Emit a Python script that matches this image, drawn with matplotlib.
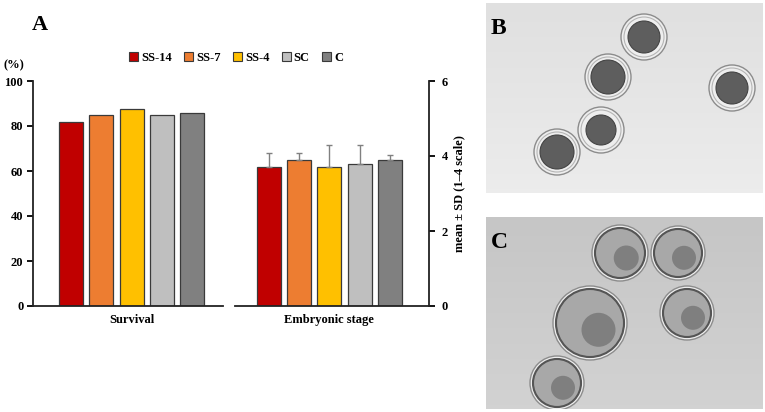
import matplotlib
matplotlib.use("Agg")
import matplotlib.pyplot as plt
import numpy as np
from matplotlib.patches import Patch, Circle

# ---------------- data ----------------
groups = ['SS-14', 'SS-7', 'SS-4', 'SC', 'C']
colors = ['#C00000', '#ED7D31', '#FFC000', '#BFBFBF', '#808080']
survival = [82, 85, 87.5, 85, 86]
stage_mean = [3.71, 3.89, 3.71, 3.80, 3.89]
stage_sd = [0.38, 0.20, 0.58, 0.49, 0.13]
left_ticks = [0, 20, 40, 60, 80, 100]
right_ticks = [0, 2, 4, 6]

plt.rcParams['font.family'] = ['Liberation Serif', 'DejaVu Serif']
plt.rcParams['font.weight'] = 'bold'

W, H = 765, 412
fig = plt.figure(figsize=(W / 100, H / 100), dpi=100)

def fbox(x0, y0, x1, y1):
    return [x0 / W, 1 - y1 / H, (x1 - x0) / W, (y1 - y0) / H]

edge = '#3a3a3a'
x = np.arange(len(groups))

# ---- left axes (Survival) ----
ax1 = fig.add_axes(fbox(33, 81, 223, 306))
ax1.bar(x, survival, width=0.79, color=colors, edgecolor=edge, linewidth=0.9)
ax1.set_ylim(0, 100)
ax1.set_xlim(-1.26, 5.02)
ax1.set_yticks(left_ticks)
ax1.set_xticks([2])
ax1.set_xticklabels(['Survival'])
for s in ['top', 'right']:
    ax1.spines[s].set_visible(False)
for s in ['left', 'bottom']:
    ax1.spines[s].set_linewidth(1.3)
    ax1.spines[s].set_color('#222222')
ax1.tick_params(axis='y', direction='out', length=4, width=1.3, labelsize=9, pad=3)
ax1.tick_params(axis='x', length=0, labelsize=9, pad=6)

# ---- right axes (Embryonic stage) ----
ax2 = fig.add_axes(fbox(235, 81, 429, 306))
ax2.bar(x, stage_mean, width=0.79, color=colors, edgecolor=edge, linewidth=0.9,
        yerr=[np.zeros(len(groups)), stage_sd], ecolor='#808080',
        error_kw=dict(capsize=2.5, elinewidth=1, capthick=1))
ax2.set_ylim(0, 6)
ax2.set_xlim(-1.12, 5.29)
ax2.set_yticks(right_ticks)
ax2.yaxis.tick_right()
ax2.yaxis.set_label_position('right')
ax2.set_xticks([2])
ax2.set_xticklabels(['Embryonic stage'])
for s in ['top', 'left']:
    ax2.spines[s].set_visible(False)
for s in ['right', 'bottom']:
    ax2.spines[s].set_linewidth(1.3)
    ax2.spines[s].set_color('#222222')
ax2.tick_params(axis='y', direction='out', length=4, width=1.3, labelsize=9, pad=5)
ax2.tick_params(axis='x', length=0, labelsize=9, pad=6)
ax2.set_ylabel('mean ± SD (1–4 scale)', fontsize=9, fontweight='bold', labelpad=4)

# ---- legend ----
handles = [Patch(facecolor=c, edgecolor=edge, linewidth=0.8) for c in colors]
fig.legend(handles, groups, loc='center', bbox_to_anchor=(236 / W, 1 - 58 / H),
           ncol=5, frameon=False, fontsize=9, handlelength=0.7, handleheight=0.7,
           handletextpad=0.25, columnspacing=1.0)

fig.text(3 / W, 1 - 65 / H, '(%)', fontsize=9, fontweight='bold', va='center', ha='left')
fig.text(32 / W, 1 - 25 / H, 'A', fontsize=16, fontweight='bold', va='center', ha='left')

# ---- photo panels (schematic) ----
def photo(box, bg_top, bg_bot, embryos, label, inner_col, blast):
    ax = fig.add_axes(fbox(*box))
    x0, y0, x1, y1 = box
    grad = np.linspace(0, 1, 50)[:, None] * np.ones((1, 50))
    ax.imshow(grad, cmap=matplotlib.colors.LinearSegmentedColormap.from_list('g', [bg_top, bg_bot]),
              extent=[x0, x1, y1, y0], aspect='auto', zorder=0)
    for (cx, cy, ro, ri) in embryos:
        ax.add_patch(Circle((cx, cy), ro, facecolor='#eeeeee', edgecolor='#8c8c8c', lw=1.0, zorder=1))
        ax.add_patch(Circle((cx, cy), ro - 3, facecolor='none', edgecolor='#b5b5b5', lw=0.8, zorder=2))
        if blast:
            ax.add_patch(Circle((cx, cy), ri, facecolor='#a8a8a8', edgecolor='#555555', lw=1.5, zorder=3))
            ax.add_patch(Circle((cx + ri * 0.25, cy + ri * 0.2), ri * 0.5, facecolor='#6e6e6e',
                                edgecolor='none', alpha=0.7, zorder=4))
        else:
            ax.add_patch(Circle((cx, cy), ri, facecolor=inner_col, edgecolor='#444444', lw=0.8, zorder=3))
    ax.set_xlim(x0, x1)
    ax.set_ylim(y1, y0)
    ax.axis('off')
    ax.text(x0 + 5, y0 + 31, label, fontsize=17, fontweight='bold', color='black',
            ha='left', va='baseline', zorder=5)

photo((486, 3, 763, 193), '#e0e0e0', '#ececec',
      [(644, 37, 23, 16), (608, 77, 23, 17), (732, 88, 23, 16),
       (601, 130, 23, 15), (557, 152, 23, 17)], 'B', '#5e5e5e', False)
photo((486, 217, 763, 409), '#c6c6c6', '#d2d2d2',
      [(620, 253, 28, 25), (678, 253, 27, 24), (687, 313, 27, 24),
       (590, 323, 37, 34), (557, 383, 27, 24)], 'C', '#888888', True)

fig.savefig('out.png', dpi=100)
